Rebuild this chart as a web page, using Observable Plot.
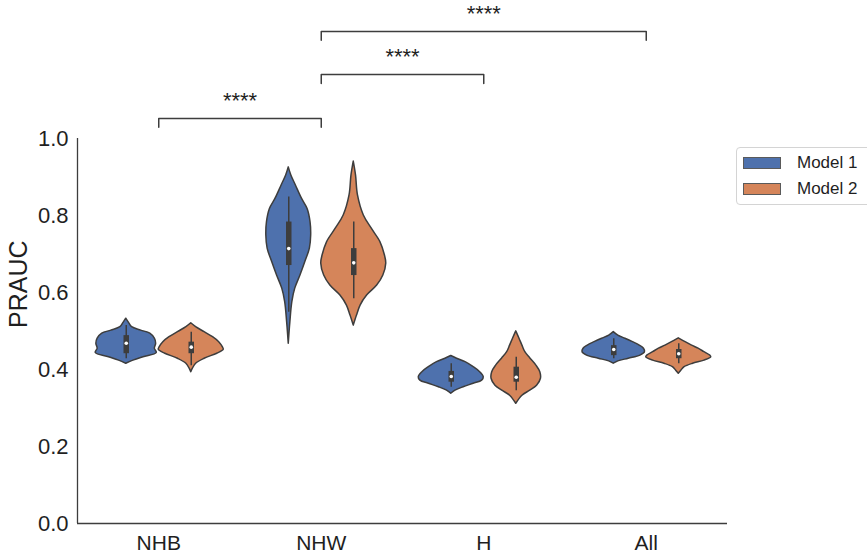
<!DOCTYPE html>
<html>
<head>
<meta charset="utf-8">
<script src="https://cdn.jsdelivr.net/npm/d3@7"></script>
<script src="https://cdn.jsdelivr.net/npm/@observablehq/plot@0.6"></script>
<style>
  html, body { margin: 0; padding: 0; background: #fff; }
  body { font-family: "Liberation Sans", Arial, sans-serif; }
  #wrap { position: relative; width: 867px; height: 556px; overflow: hidden; }
  .legend { position: absolute; left: 736px; top: 147px; width: 150px; height: 58px;
    border: 1px solid #d4d4d4; border-radius: 4px; background: #fff; box-sizing: border-box; }
  .legend .row { position: absolute; left: 6px; height: 13px; display: flex; align-items: center; }
  .legend .sw { width: 38px; height: 12px; box-sizing: border-box; border: 1px solid #5a5a5a; }
  .legend .lab { margin-left: 16px; font-size: 17px; color: #1f1f1f; white-space: nowrap; }
</style>
</head>
<body>
<div id="wrap"></div>
<script>
// ---------- data ----------
const categories = ["NHB", "NHW", "H", "All"];
const models = ["Model 1", "Model 2"];
const modelColors = ["#4e71ad", "#d5855a"];
const yTicks = [0, 0.2, 0.4, 0.6, 0.8, 1.0];

// violin density profiles: [PRAUC value, relative half-width (0..1)]
const nhbModel1 = [[0.532,0],[0.519,0.10],[0.510,0.18],[0.501,0.46],[0.493,0.74],[0.480,0.88],[0.467,0.92],[0.454,0.88],[0.443,0.94],[0.432,0.53],[0.423,0.22],[0.415,0]];
const nhbModel2 = [[0.520,0],[0.510,0.15],[0.497,0.41],[0.484,0.67],[0.471,0.86],[0.458,0.97],[0.451,1.0],[0.441,0.80],[0.428,0.41],[0.415,0.15],[0.402,0.05],[0.393,0]];
const nhwModel1 = [[0.925,0],[0.904,0.08],[0.878,0.22],[0.843,0.41],[0.817,0.58],[0.783,0.67],[0.748,0.69],[0.714,0.65],[0.679,0.51],[0.644,0.36],[0.610,0.20],[0.575,0.11],[0.523,0.05],[0.467,0]];
const nhwModel2 = [[0.940,0],[0.904,0.07],[0.852,0.13],[0.800,0.31],[0.765,0.56],[0.731,0.82],[0.696,0.96],[0.675,1.0],[0.644,0.91],[0.618,0.72],[0.592,0.41],[0.566,0.21],[0.540,0.10],[0.514,0]];
const hModel1 = [[0.435,0],[0.428,0.18],[0.419,0.44],[0.406,0.69],[0.393,0.89],[0.380,1.0],[0.371,0.95],[0.363,0.69],[0.354,0.38],[0.345,0.13],[0.337,0]];
const hModel2 = [[0.499,0],[0.480,0.10],[0.462,0.19],[0.445,0.28],[0.428,0.44],[0.410,0.62],[0.393,0.74],[0.376,0.76],[0.358,0.64],[0.345,0.43],[0.332,0.19],[0.311,0]];
const allModel1 = [[0.497,0],[0.488,0.14],[0.480,0.36],[0.471,0.59],[0.462,0.80],[0.454,0.93],[0.445,0.96],[0.436,0.82],[0.428,0.46],[0.421,0.14],[0.415,0]];
const allModel2 = [[0.481,0],[0.471,0.21],[0.462,0.41],[0.454,0.61],[0.445,0.79],[0.436,0.97],[0.432,1.0],[0.423,0.79],[0.415,0.44],[0.406,0.18],[0.397,0.08],[0.389,0]];

// box summaries per category (NHB, NHW, H, All)
const model1Median = [0.468, 0.714, 0.382, 0.452];
const model2Median = [0.458, 0.677, 0.380, 0.441];
const model1Q1 = [0.441, 0.670, 0.367, 0.436];
const model2Q1 = [0.441, 0.644, 0.367, 0.428];
const model1Q3 = [0.488, 0.783, 0.395, 0.462];
const model2Q3 = [0.471, 0.714, 0.406, 0.452];
const model1WhiskLo = [0.428, 0.549, 0.354, 0.428];
const model2WhiskLo = [0.410, 0.584, 0.345, 0.415];
const model1WhiskHi = [0.514, 0.848, 0.415, 0.480];
const model2WhiskHi = [0.497, 0.783, 0.432, 0.467];

// significance brackets (category index from -> to)
const bracketFrom = [0, 1, 1];
const bracketTo = [1, 2, 3];
const bracketLevel = [1.052, 1.166, 1.278];
const bracketLabel = ["****", "****", "****"];

// ---------- build tables ----------
const dodge = 0.2, maxHalf = 0.2, tickDrop = 0.023;
const profiles = [[nhbModel1, nhbModel2], [nhwModel1, nhwModel2], [hModel1, hModel2], [allModel1, allModel2]];
const violinRows = [];
profiles.forEach((pair, c) => pair.forEach((prof, m) => prof.forEach(([v, w]) =>
  violinRows.push({id: c + "-" + m, model: models[m], xc: c + (m ? dodge : -dodge), v, w}))));

const stats = [
  [model1Median, model1Q1, model1Q3, model1WhiskLo, model1WhiskHi],
  [model2Median, model2Q1, model2Q3, model2WhiskLo, model2WhiskHi]
];
const boxRows = [];
categories.forEach((cat, c) => stats.forEach(([med, q1, q3, lo, hi], m) =>
  boxRows.push({xc: c + (m ? dodge : -dodge), med: med[c], q1: q1[c], q3: q3[c], lo: lo[c], hi: hi[c]})));

const bracketRows = [];
bracketFrom.forEach((a, i) => {
  const b = bracketTo[i], L = bracketLevel[i];
  bracketRows.push({id: i, x: a, y: L - tickDrop}, {id: i, x: a, y: L}, {id: i, x: b, y: L}, {id: i, x: b, y: L - tickDrop});
});
const bracketText = bracketFrom.map((a, i) => ({x: (a + bracketTo[i]) / 2, y: bracketLevel[i] + 0.045, t: bracketLabel[i]}));

const ink = "#3d3d3d";
const chart = Plot.plot({
  width: 867, height: 556,
  marginLeft: 77, marginRight: 140, marginTop: 138, marginBottom: 33,
  style: {fontFamily: '"Liberation Sans", Arial, sans-serif', background: "white", color: "#1f1f1f"},
  x: {domain: [-0.5, 3.5], axis: null},
  y: {domain: [0, 1], axis: null},
  color: {domain: models, range: modelColors},
  marks: [
    Plot.areaX(violinRows, {
      y: "v", x1: d => d.xc - d.w * maxHalf, x2: d => d.xc + d.w * maxHalf,
      z: "id", fill: "model", stroke: ink, strokeWidth: 1.5, curve: "catmull-rom"
    }),
    Plot.ruleX(boxRows, {x: "xc", y1: "lo", y2: "hi", stroke: ink, strokeWidth: 1.5}),
    Plot.ruleX(boxRows, {x: "xc", y1: "q1", y2: "q3", stroke: ink, strokeWidth: 5.5}),
    Plot.dot(boxRows, {x: "xc", y: "med", r: 1.8, fill: "white", stroke: null}),
    Plot.ruleY([0], {stroke: ink, strokeWidth: 1.3}),
    Plot.ruleX([-0.5], {y1: 0, y2: 1, stroke: ink, strokeWidth: 1.3}),
    Plot.axisX([0, 1, 2, 3], {tickFormat: i => categories[i], tickSize: 0, tickPadding: 12, fontSize: 21, label: null}),
    Plot.axisY(yTicks, {tickFormat: d3.format(".1f"), tickSize: 0, tickPadding: 9, fontSize: 22, label: null}),
    Plot.text(["PRAUC"], {frameAnchor: "left", rotate: -90, dx: -59, dy: -3, fontSize: 25, fill: "#1f1f1f"}),
    Plot.line(bracketRows, {x: "x", y: "y", z: "id", stroke: ink, strokeWidth: 1.5}),
    Plot.text(bracketText, {x: "x", y: "y", text: "t", fontSize: 22, fill: "#1f1f1f"})
  ]
});
const wrap = document.getElementById("wrap");
wrap.appendChild(chart);

// legend
const legend = document.createElement("div");
legend.className = "legend";
models.forEach((m, i) => {
  const row = document.createElement("div");
  row.className = "row";
  row.style.top = (8 + i * 26) + "px";
  row.innerHTML = `<div class="sw" style="background:${modelColors[i]}"></div><div class="lab">${m}</div>`;
  legend.appendChild(row);
});
wrap.appendChild(legend);
</script>
</body>
</html>
